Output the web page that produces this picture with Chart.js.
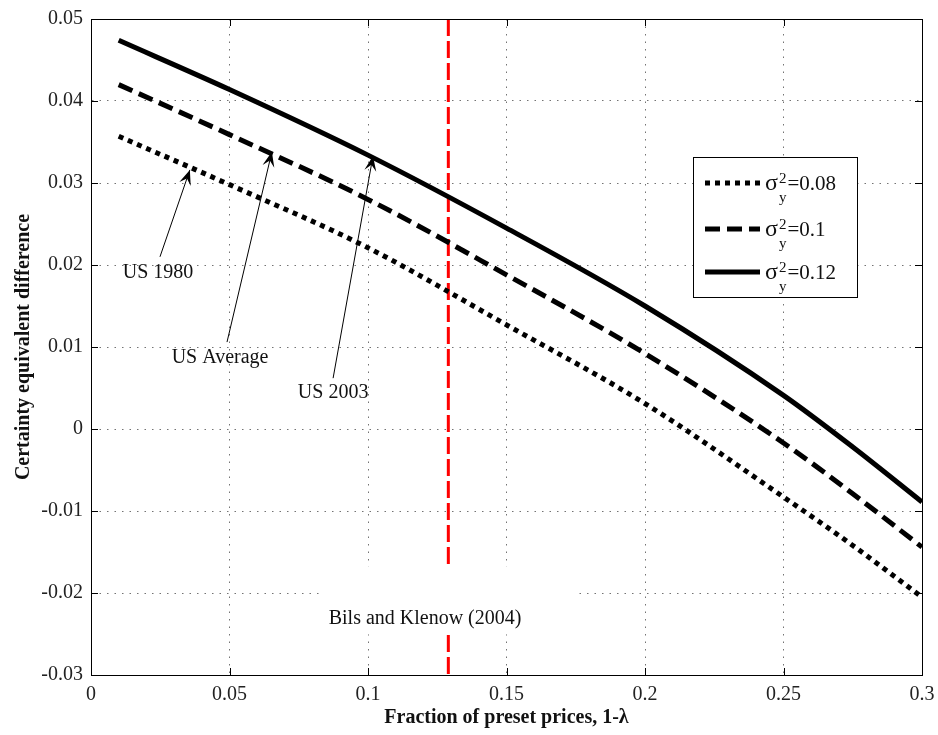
<!DOCTYPE html>
<html>
<head>
<meta charset="utf-8">
<script src="https://cdn.jsdelivr.net/npm/chart.js@4.4.1/dist/chart.umd.min.js"></script>
<style>
html, body { margin: 0; padding: 0; background: #fff; }
#wrap { width: 938px; height: 735px; }
</style>
</head>
<body>
<div id="wrap"><canvas id="chart" width="938" height="735"></canvas></div>
<script>
// data
const fractions = [0.01, 0.05, 0.1, 0.15, 0.2, 0.25, 0.275, 0.3];
const ceSigma008 = [0.0357, 0.0298, 0.0221, 0.0127, 0.0031, -0.0083, -0.0142, -0.0205];
const ceSigma010 = [0.0420, 0.0359, 0.0280, 0.0188, 0.0092, -0.0017, -0.0079, -0.0144];
const ceSigma012 = [0.0474, 0.0414, 0.0334, 0.0245, 0.0150, 0.0041, -0.0022, -0.0089];
const sigmaValues = ['0.08', '0.1', '0.12'];
const bilsKlenow = 0.129;

const xMin = 0, xMax = 0.3, xStep = 0.05;
const yMin = -0.03, yMax = 0.05, yStep = 0.01;

// annotations (data coordinates)
const arrowNotes = [
    { text: 'US 1980',    at: [0.0242, 0.0191], from: [0.0249, 0.0210], to: [0.0357, 0.0316] },
    { text: 'US Average', at: [0.0466, 0.0087], from: [0.0491, 0.0106], to: [0.0653, 0.0338] },
    { text: 'US 2003',    at: [0.0874, 0.0044], from: [0.0874, 0.0062], to: [0.1018, 0.0333] }
];
const bilsNote = { text: 'Bils and Klenow (2004)', at: [0.1206, -0.0231] };

const serif = '"Liberation Serif", "DejaVu Serif", serif';

function pts(xs, ys) {
    return xs.map((x, i) => ({ x: x, y: ys[i] }));
}

function fmt(v) {
    if (Math.abs(v) < 1e-9) return '0';
    return String(+v.toFixed(2));
}

function drawArrowHead(ctx, x1, y1, x2, y2) {
    const ang = Math.atan2(y2 - y1, x2 - x1);
    const L = 15, W = 6;
    ctx.save();
    ctx.translate(x2, y2);
    ctx.rotate(ang);
    ctx.beginPath();
    ctx.moveTo(0, 0);
    ctx.lineTo(-L, -W);
    ctx.lineTo(-L * 0.6, 0);
    ctx.lineTo(-L, W);
    ctx.closePath();
    ctx.fill();
    ctx.restore();
}

// рамка, засечки, подписи, легенда
const decorations = {
    id: 'decorations',
    afterDatasetsDraw(chart) {
        const { ctx, chartArea: a, scales: { x, y } } = chart;
        ctx.save();

        // white box behind the Bils & Klenow label
        const bx = x.getPixelForValue(bilsNote.at[0]);
        const by = y.getPixelForValue(bilsNote.at[1]);
        ctx.font = '20px ' + serif;
        const bw = ctx.measureText(bilsNote.text).width;
        ctx.fillStyle = '#fff';
        ctx.fillRect(bx - bw / 2 - 6, by - 52, bw + 60, 68);
        ctx.fillStyle = '#111';
        ctx.textAlign = 'center';
        ctx.textBaseline = 'middle';
        ctx.fillText(bilsNote.text, bx, by);

        // arrows
        ctx.strokeStyle = '#000';
        ctx.fillStyle = '#000';
        ctx.lineWidth = 1;
        arrowNotes.forEach(n => {
            const x1 = x.getPixelForValue(n.from[0]), y1 = y.getPixelForValue(n.from[1]);
            const x2 = x.getPixelForValue(n.to[0]), y2 = y.getPixelForValue(n.to[1]);
            ctx.beginPath();
            ctx.moveTo(x1, y1);
            ctx.lineTo(x2, y2);
            ctx.stroke();
            drawArrowHead(ctx, x1, y1, x2, y2);
            ctx.fillStyle = '#111';
            ctx.fillText(n.text, x.getPixelForValue(n.at[0]), y.getPixelForValue(n.at[1]));
            ctx.fillStyle = '#000';
        });

        // box and inner ticks
        ctx.strokeStyle = '#000';
        ctx.lineWidth = 1;
        ctx.strokeRect(Math.round(a.left) + 0.5, Math.round(a.top) + 0.5,
            Math.round(a.right - a.left), Math.round(a.bottom - a.top));
        ctx.beginPath();
        for (let v = xMin; v <= xMax + 1e-9; v += xStep) {
            const px = Math.round(x.getPixelForValue(v)) + 0.5;
            ctx.moveTo(px, a.bottom); ctx.lineTo(px, a.bottom - 7);
            ctx.moveTo(px, a.top); ctx.lineTo(px, a.top + 7);
        }
        for (let v = yMin; v <= yMax + 1e-9; v += yStep) {
            const py = Math.round(y.getPixelForValue(v)) + 0.5;
            ctx.moveTo(a.left, py); ctx.lineTo(a.left + 7, py);
            ctx.moveTo(a.right, py); ctx.lineTo(a.right - 7, py);
        }
        ctx.stroke();

        // legend
        const lx = 693, ly = 157, lw = 164, lh = 140;
        ctx.fillStyle = '#fff';
        ctx.fillRect(lx, ly, lw, lh);
        ctx.strokeRect(lx + 0.5, ly + 0.5, lw, lh);
        const rows = [183, 229, 272];
        ctx.textAlign = 'left';
        ctx.textBaseline = 'alphabetic';
        rows.forEach((ry, i) => {
            const ds = chart.data.datasets[i];
            ctx.save();
            ctx.strokeStyle = ds.borderColor;
            ctx.lineWidth = ds.borderWidth;
            ctx.setLineDash(ds.borderDash || []);
            ctx.lineCap = 'butt';
            ctx.beginPath();
            ctx.moveTo(705, ry);
            ctx.lineTo(760, ry);
            ctx.stroke();
            ctx.restore();
            ctx.fillStyle = '#111';
            ctx.font = '24px ' + serif;
            ctx.fillText('σ', 765, ry + 7);
            const sw = ctx.measureText('σ').width;
            ctx.font = '15px ' + serif;
            ctx.fillText('2', 765 + sw + 1, ry);
            ctx.fillText('y', 765 + sw + 1, ry + 19);
            const tw = ctx.measureText('2').width;
            ctx.font = '21px ' + serif;
            ctx.fillText('=' + sigmaValues[i], 765 + sw + tw + 2, ry + 7);
        });

        ctx.restore();
    }
};

const ctx = document.getElementById('chart').getContext('2d');
const chart = new Chart(ctx, {
    type: 'line',
    data: {
        datasets: [
            {
                label: 'σ²y=' + sigmaValues[0],
                data: pts(fractions, ceSigma008),
                borderColor: '#000',
                borderWidth: 5,
                borderDash: [5, 5],
                borderCapStyle: 'butt',
                cubicInterpolationMode: 'monotone',
                pointRadius: 0,
                fill: false
            },
            {
                label: 'σ²y=' + sigmaValues[1],
                data: pts(fractions, ceSigma010),
                borderColor: '#000',
                borderWidth: 5,
                borderDash: [15, 7],
                borderCapStyle: 'butt',
                cubicInterpolationMode: 'monotone',
                pointRadius: 0,
                fill: false
            },
            {
                label: 'σ²y=' + sigmaValues[2],
                data: pts(fractions, ceSigma012),
                borderColor: '#000',
                borderWidth: 5,
                cubicInterpolationMode: 'monotone',
                pointRadius: 0,
                fill: false
            },
            {
                label: 'Bils and Klenow (2004)',
                data: [{ x: bilsKlenow, y: yMax }, { x: bilsKlenow, y: yMin }],
                borderColor: '#ff0000',
                borderWidth: 3,
                borderDash: [17, 5],
                borderCapStyle: 'butt',
                pointRadius: 0,
                fill: false
            }
        ]
    },
    options: {
        responsive: false,
        animation: false,
        devicePixelRatio: 1,
        layout: { padding: { left: 0, top: 19, right: 16, bottom: 0 } },
        plugins: {
            legend: { display: false },
            tooltip: { enabled: false }
        },
        scales: {
            x: {
                type: 'linear',
                min: xMin,
                max: xMax,
                afterFit: s => { s.height = 60; s.paddingLeft = 0; s.paddingRight = 0; },
                ticks: {
                    stepSize: xStep,
                    padding: 8,
                    color: '#222',
                    font: { family: serif, size: 20 },
                    callback: v => fmt(v),
                    maxRotation: 0
                },
                grid: { color: 'rgba(0,0,0,0.55)', lineWidth: 1, drawTicks: false },
                border: { color: '#000', width: 1, dash: [1.5, 6] },
                title: {
                    display: true,
                    text: 'Fraction of preset prices, 1-λ',
                    color: '#111',
                    font: { family: serif, size: 20, weight: 'bold' },
                    padding: { top: 0, bottom: 5 }
                }
            },
            y: {
                type: 'linear',
                min: yMin,
                max: yMax,
                afterFit: s => { s.width = 91; s.paddingTop = 0; s.paddingBottom = 0; },
                ticks: {
                    stepSize: yStep,
                    padding: 8,
                    color: '#222',
                    font: { family: serif, size: 20 },
                    callback: v => fmt(v)
                },
                grid: { color: 'rgba(0,0,0,0.55)', lineWidth: 1, drawTicks: false },
                border: { color: '#000', width: 1, dash: [1.5, 6] },
                title: {
                    display: true,
                    text: 'Certainty equivalent difference',
                    color: '#111',
                    font: { family: serif, size: 20, weight: 'bold' },
                    padding: { top: 12, bottom: 0 }
                }
            }
        }
    },
    plugins: [decorations]
});
</script>
</body>
</html>
